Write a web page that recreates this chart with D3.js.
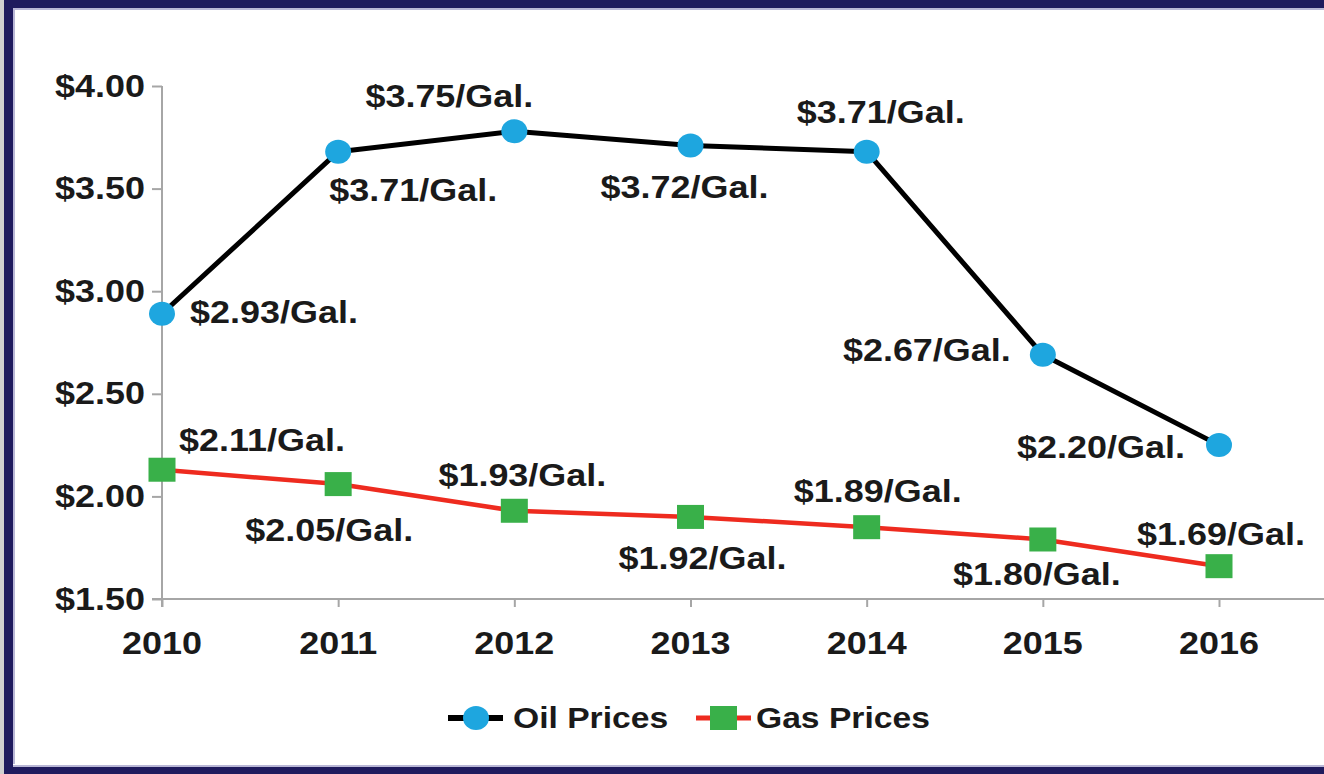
<!DOCTYPE html>
<html>
<head>
<meta charset="utf-8">
<script src="https://cdn.jsdelivr.net/npm/d3@7"></script>
<style>
  html, body { margin: 0; padding: 0; background: #ffffff; }
  svg { display: block; }
</style>
</head>
<body>
<script>
// ---- data ----
const years = ["2010", "2011", "2012", "2013", "2014", "2015", "2016"];
const oilValues = [2.89, 3.68, 3.78, 3.71, 3.68, 2.69, 2.25];
const gasValues = [2.13, 2.06, 1.93, 1.90, 1.85, 1.79, 1.66];
const oilLabels = ["$2.93/Gal.", "$3.71/Gal.", "$3.75/Gal.", "$3.72/Gal.", "$3.71/Gal.", "$2.67/Gal.", "$2.20/Gal."];
const gasLabels = ["$2.11/Gal.", "$2.05/Gal.", "$1.93/Gal.", "$1.92/Gal.", "$1.89/Gal.", "$1.80/Gal.", "$1.69/Gal."];
const yTicks = [1.5, 2.0, 2.5, 3.0, 3.5, 4.0];
const seriesNames = ["Oil Prices", "Gas Prices"];

// label placement offsets (px, relative to the point), layout only
const oilLabelOffsets = [[112, -1], [75, 39], [-65, -35], [-6, 42], [14, -39], [-116, -4], [-118, 2]];
const gasLabelOffsets = [[100, -29], [-9, 46], [8, -35], [12, 41], [11, -36], [-6, 35], [2, -32]];

const W = 1324, H = 774;
const SX = 1.16; // horizontal stretch of the original typography
const FONT = "'Liberation Sans', Arial, Helvetica, sans-serif";

const svg = d3.select("body").append("svg").attr("width", W).attr("height", H);

// frame
svg.append("rect").attr("x", 0).attr("y", 0).attr("width", W).attr("height", H).attr("fill", "#ffffff");
const navy = "#1f1b5e";
svg.append("rect").attr("x", 0).attr("y", 0).attr("width", W).attr("height", 8).attr("fill", navy);
svg.append("rect").attr("x", 0).attr("y", 8).attr("width", W).attr("height", 2).attr("fill", "#b9b7d6");
svg.append("rect").attr("x", 0).attr("y", 0).attr("width", 4).attr("height", H).attr("fill", "#d0d0d0");
svg.append("rect").attr("x", 4).attr("y", 0).attr("width", 9).attr("height", H).attr("fill", navy);
svg.append("rect").attr("x", 13).attr("y", 10).attr("width", 2).attr("height", H - 20).attr("fill", "#b9b7d6");
svg.append("rect").attr("x", 13).attr("y", 765).attr("width", W).attr("height", 2).attr("fill", "#b9b7d6");
svg.append("rect").attr("x", 4).attr("y", 767).attr("width", W).attr("height", 7).attr("fill", navy);

// scales
const x = d3.scalePoint().domain(years).range([162, 1219]);
const y = d3.scaleLinear().domain([1.5, 4.0]).range([599, 86]);

const axisColor = "#a6a6a6";

function stretchedText(g, tx, ty, str, opts) {
  return g.append("text")
    .attr("transform", `translate(${tx},${ty}) scale(${SX},1)`)
    .attr("text-anchor", opts.anchor || "middle")
    .attr("dominant-baseline", "central")
    .attr("font-family", FONT)
    .attr("font-weight", opts.weight || "bold")
    .attr("font-size", opts.size || 31)
    .attr("fill", opts.fill || "#1a1a1a")
    .text(str);
}

// y axis
const yAxisG = svg.append("g").attr("transform", "translate(162,0)")
  .call(d3.axisLeft(y).tickValues(yTicks).tickSize(10).tickFormat(""));
yAxisG.select(".domain").attr("stroke", axisColor).attr("stroke-width", 2).attr("d", `M0,${y(4.0)}V${y(1.5) + 8}`);
yAxisG.selectAll(".tick line").attr("stroke", axisColor).attr("stroke-width", 2);
yTicks.forEach(v => {
  stretchedText(svg, 145, y(v), d3.format("$.2f")(v), { anchor: "end", weight: "bold" });
});

// x axis
const xAxisG = svg.append("g").attr("transform", `translate(0,${y(1.5)})`)
  .call(d3.axisBottom(x).tickSize(8).tickFormat(""));
xAxisG.select(".domain").attr("stroke", axisColor).attr("stroke-width", 2).attr("d", `M152,0H${W}`);
xAxisG.selectAll(".tick line").attr("stroke", axisColor).attr("stroke-width", 2);
years.forEach(yr => {
  stretchedText(svg, x(yr), 643, yr, { weight: "bold" });
});

// lines
const oilData = years.map((yr, i) => ({ yr, v: oilValues[i], label: oilLabels[i], off: oilLabelOffsets[i] }));
const gasData = years.map((yr, i) => ({ yr, v: gasValues[i], label: gasLabels[i], off: gasLabelOffsets[i] }));
const line = d3.line().x(d => x(d.yr)).y(d => y(d.v));

svg.append("path").datum(gasData).attr("d", line)
  .attr("fill", "none").attr("stroke", "#ee2b1f").attr("stroke-width", 4.5).attr("stroke-linejoin", "round");
svg.append("path").datum(oilData).attr("d", line)
  .attr("fill", "none").attr("stroke", "#000000").attr("stroke-width", 5).attr("stroke-linejoin", "round");

// markers
const oilColor = "#1ea6df", gasColor = "#39b049";
svg.selectAll(".oilpt").data(oilData).enter().append("ellipse")
  .attr("cx", d => x(d.yr)).attr("cy", d => y(d.v)).attr("rx", 13).attr("ry", 12)
  .attr("fill", oilColor);
svg.selectAll(".gaspt").data(gasData).enter().append("rect")
  .attr("x", d => x(d.yr) - 13.5).attr("y", d => y(d.v) - 12).attr("width", 27).attr("height", 24)
  .attr("fill", gasColor);

// data labels
oilData.forEach(d => stretchedText(svg, x(d.yr) + d.off[0], y(d.v) + d.off[1], d.label, {}));
gasData.forEach(d => stretchedText(svg, x(d.yr) + d.off[0], y(d.v) + d.off[1], d.label, {}));

// legend
const ly = 718;
const leg = svg.append("g");
leg.append("line").attr("x1", 448).attr("x2", 503).attr("y1", ly).attr("y2", ly)
  .attr("stroke", "#000").attr("stroke-width", 6);
leg.append("ellipse").attr("cx", 476).attr("cy", ly).attr("rx", 13).attr("ry", 12).attr("fill", oilColor);
stretchedText(leg, 513, ly, seriesNames[0], { anchor: "start", size: 29 });
leg.append("line").attr("x1", 696).attr("x2", 751).attr("y1", ly).attr("y2", ly)
  .attr("stroke", "#ee2b1f").attr("stroke-width", 5);
leg.append("rect").attr("x", 710).attr("y", ly - 12).attr("width", 27).attr("height", 24).attr("fill", gasColor);
stretchedText(leg, 756, ly, seriesNames[1], { anchor: "start", size: 29 });
</script>
</body>
</html>
